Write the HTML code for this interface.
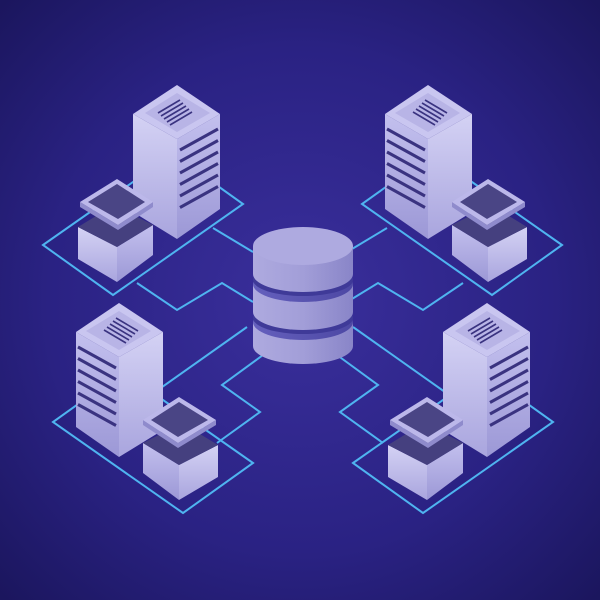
<!DOCTYPE html>
<html><head><meta charset="utf-8"><style>html,body{margin:0;padding:0;background:#221c6e}svg{display:block}</style></head>
<body>
<svg width="600" height="600" viewBox="0 0 600 600" xmlns="http://www.w3.org/2000/svg">
<defs>
<radialGradient id="bg" cx="50%" cy="50%" r="70%">
<stop offset="0" stop-color="#3a2f9c"/><stop offset="0.6" stop-color="#2a2283"/><stop offset="1" stop-color="#1b165e"/>
</radialGradient>
<linearGradient id="lf" x1="0" y1="0" x2="0" y2="1"><stop offset="0" stop-color="#d4d2f4"/><stop offset="1" stop-color="#a9a5de"/></linearGradient>
<linearGradient id="rf" x1="0" y1="0" x2="0" y2="1"><stop offset="0" stop-color="#c3c0ee"/><stop offset="1" stop-color="#9c98d6"/></linearGradient>
<linearGradient id="cyl" x1="0" y1="0" x2="1" y2="0"><stop offset="0" stop-color="#aeaadf"/><stop offset="0.5" stop-color="#a29ed8"/><stop offset="1" stop-color="#8985c8"/></linearGradient>
<linearGradient id="neck" x1="0" y1="0" x2="1" y2="0"><stop offset="0" stop-color="#6560bd"/><stop offset="1" stop-color="#4d48a4"/></linearGradient>
<g id="unit">
<polygon points="353,463 483,372 553,422 423,513" fill="none" stroke="#4fb4f0" stroke-width="2"/>
<polygon points="443,332 487,357 487,457 443,430" fill="url(#lf)"/>
<polygon points="487,357 530,332 530,427 487,457" fill="url(#rf)"/>
<polygon points="443,332 487,303 530,332 487,357" fill="#c9c6f0"/>
<polygon points="455,331 487,311 520,331 487,350" fill="#b8b4e6"/>
<g stroke="#3a3380" stroke-width="1.6">
<line x1="468" y1="331" x2="490" y2="318"/><line x1="471" y1="334" x2="493" y2="321"/><line x1="474" y1="337" x2="496" y2="324"/><line x1="477" y1="340" x2="499" y2="327"/><line x1="480" y1="343" x2="502" y2="330"/>
</g>
<g stroke="#3a3380" stroke-width="3">
<line x1="490" y1="368" x2="528" y2="347"/><line x1="490" y1="379.5" x2="528" y2="358.5"/><line x1="490" y1="391" x2="528" y2="370"/><line x1="490" y1="402.5" x2="528" y2="381.5"/><line x1="490" y1="414" x2="528" y2="393"/><line x1="490" y1="425.5" x2="528" y2="404.5"/>
</g>
<polygon points="388,445 427,465 427,500 388,477" fill="url(#lf)"/>
<polygon points="427,465 463,443 463,473 427,500" fill="url(#rf)"/>
<polygon points="388,445 427,465 463,443 424,423" fill="#45407f"/>
<polygon points="390,420 428,443 463,420 463,425 428,448 390,425" fill="#8f8bcc"/>
<polygon points="390,420 427,397 463,420 428,443" fill="#bcb8ea"/>
<polygon points="398,420 427,402 455,420 428,437" fill="#4a4585"/>
</g>
</defs>
<rect width="600" height="600" fill="url(#bg)"/>
<g fill="none" stroke="#4fb4f0" stroke-width="2">
<polyline points="213,228 253,252"/><polyline points="137,283 177,310 222,283 253,302"/>
<polyline points="387,228 347,252"/><polyline points="463,283 423,310 378,283 347,302"/>
<polyline points="353,327 452,397"/><polyline points="337,355 378,385 340,412 383,443"/>
<polyline points="247,327 148,397"/><polyline points="263,355 222,385 260,412 217,443"/>
</g>
<use href="#unit" transform="translate(-310,-218)"/>
<use href="#unit" transform="translate(605,0) scale(-1,1) translate(-310,-218)"/>
<use href="#unit"/>
<use href="#unit" transform="translate(606,0) scale(-1,1)"/>
<g>
<path d="M253,322 L253,346 A50,18 0 0 0 353,346 L353,322 Z" fill="url(#cyl)"/>
<ellipse cx="303" cy="322" rx="50" ry="18" fill="url(#neck)"/>
<ellipse cx="303" cy="318" rx="50" ry="16" fill="#3f3a98"/>
<path d="M253,284 L253,312 A50,18 0 0 0 353,312 L353,284 Z" fill="url(#cyl)"/>
<ellipse cx="303" cy="284" rx="50" ry="18" fill="url(#neck)"/>
<ellipse cx="303" cy="280" rx="50" ry="16" fill="#3f3a98"/>
<path d="M253,246 L253,274 A50,18 0 0 0 353,274 L353,246 Z" fill="url(#cyl)"/>
<ellipse cx="303" cy="246" rx="50" ry="19" fill="#aeaae0"/>
</g>
</svg>
</body></html>
